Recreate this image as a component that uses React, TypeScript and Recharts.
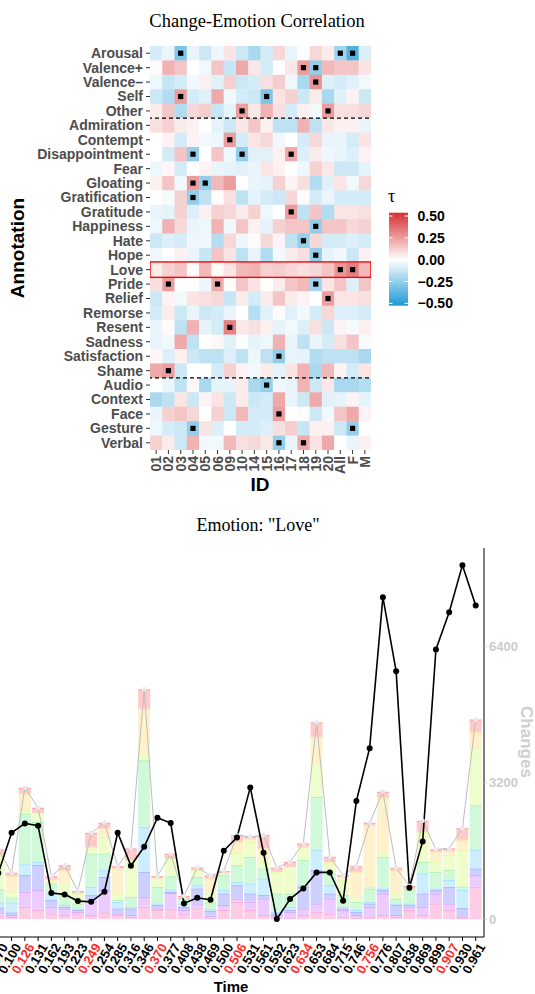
import React from "react";
import {
  ScatterChart,
  Scatter,
  XAxis,
  YAxis,
  ComposedChart,
  Bar,
  Line,
} from "recharts";

// ---------------- Heatmap data ----------------
const ids = ["01", "02", "03", "04", "05", "06", "09", "10", "14", "15", "16", "17", "18", "19", "20", "All", "F", "M"];
const annotations = [
  "Arousal", "Valence+", "Valence\u2013", "Self", "Other", "Admiration", "Contempt", "Disappointment", "Fear",
  "Gloating", "Gratification", "Gratitude", "Happiness", "Hate", "Hope", "Love", "Pride", "Relief", "Remorse",
  "Resent", "Sadness", "Satisfaction", "Shame", "Audio", "Context", "Face", "Gesture", "Verbal",
];
// tau per annotation (rows) x id (columns)
const tau: number[][] = [
  [-0.1, -0.05, -0.3, -0.05, -0.12, -0.04, 0.07, -0.12, -0.2, -0.1, 0.1, -0.05, -0.01, 0.1, 0.05, -0.22, -0.4, -0.08],
  [0.01, 0.2, 0.15, 0.0, -0.03, 0.15, -0.13, 0.22, 0.06, -0.1, 0.0, 0.06, 0.25, -0.25, 0.18, 0.15, 0.15, 0.07],
  [-0.04, -0.13, -0.1, -0.03, 0.04, -0.07, 0.12, -0.12, -0.1, 0.08, 0.13, -0.04, -0.2, 0.28, -0.08, -0.1, -0.07, -0.03],
  [-0.12, -0.18, 0.25, -0.1, -0.07, 0.22, -0.03, -0.1, -0.12, -0.3, 0.07, 0.12, -0.12, 0.05, -0.2, -0.07, 0.03, -0.12],
  [0.05, 0.15, -0.18, 0.1, 0.13, -0.13, -0.06, 0.25, 0.06, 0.2, 0.08, -0.1, 0.04, -0.03, 0.25, 0.08, 0.08, 0.1],
  [0.08, 0.12, 0.05, 0.04, 0.0, -0.06, -0.12, 0.06, 0.15, 0.04, -0.15, -0.15, 0.2, -0.15, 0.06, 0.04, 0.04, -0.05],
  [0.0, 0.03, -0.1, 0.03, -0.03, -0.04, 0.25, -0.1, 0.07, 0.1, -0.03, 0.0, -0.1, 0.1, -0.05, -0.05, -0.1, 0.07],
  [0.0, -0.1, 0.15, -0.25, 0.0, 0.15, -0.04, -0.25, -0.07, -0.07, 0.04, 0.22, -0.08, 0.05, -0.04, -0.05, -0.08, 0.03],
  [-0.04, 0.02, -0.1, 0.0, 0.03, -0.05, -0.06, -0.07, -0.05, 0.07, 0.04, 0.0, -0.04, 0.12, 0.06, -0.12, -0.12, -0.06],
  [0.04, 0.15, -0.03, 0.25, -0.25, 0.18, 0.25, 0.0, -0.05, -0.06, 0.12, 0.03, 0.08, -0.18, -0.07, 0.07, -0.03, 0.1],
  [0.0, -0.02, 0.12, -0.25, -0.15, 0.01, 0.08, -0.15, -0.06, -0.1, -0.12, 0.1, 0.01, -0.1, -0.05, -0.1, -0.1, -0.1],
  [-0.05, -0.06, 0.12, -0.08, 0.04, 0.12, 0.1, 0.05, 0.12, -0.04, 0.0, 0.25, -0.15, 0.15, -0.18, 0.07, 0.07, 0.08],
  [-0.04, 0.2, 0.1, -0.05, -0.04, 0.2, -0.03, 0.15, 0.04, -0.06, 0.12, 0.15, 0.15, -0.25, 0.15, 0.15, 0.1, 0.12],
  [-0.12, -0.08, -0.1, -0.04, -0.03, -0.17, 0.1, -0.04, 0.01, 0.1, 0.03, -0.15, -0.25, 0.1, -0.1, -0.1, -0.08, -0.1],
  [-0.04, 0.0, 0.04, -0.05, -0.13, 0.15, 0.07, -0.15, -0.05, -0.18, -0.03, 0.05, 0.08, -0.25, -0.06, -0.03, -0.12, 0.04],
  [0.05, 0.12, 0.15, 0.01, 0.18, 0.01, 0.07, 0.18, 0.2, 0.12, 0.13, 0.1, 0.08, 0.1, 0.15, 0.27, 0.33, 0.18],
  [0.08, 0.25, 0.0, 0.0, -0.04, 0.22, 0.01, 0.15, 0.07, 0.0, 0.05, 0.15, 0.18, -0.22, 0.07, 0.15, -0.08, 0.15],
  [-0.12, 0.03, -0.03, 0.07, 0.08, 0.1, -0.13, 0.05, -0.1, 0.05, 0.15, 0.05, 0.03, 0.0, 0.25, 0.07, 0.07, 0.08],
  [-0.1, 0.05, -0.12, -0.05, -0.12, -0.1, -0.05, 0.0, -0.17, -0.07, 0.01, -0.07, -0.03, -0.1, 0.1, -0.08, -0.08, -0.1],
  [-0.05, 0.01, -0.15, 0.2, -0.06, -0.1, 0.33, 0.06, 0.08, 0.04, -0.06, -0.03, -0.08, 0.08, -0.12, 0.03, -0.02, 0.04],
  [-0.05, -0.03, 0.22, -0.15, 0.0, 0.02, -0.07, -0.01, -0.06, -0.04, 0.2, -0.05, -0.15, -0.05, -0.1, 0.08, 0.15, -0.02],
  [0.02, -0.08, 0.04, -0.12, -0.15, -0.15, -0.08, -0.15, -0.04, -0.15, -0.25, -0.05, -0.06, -0.18, -0.15, -0.15, -0.15, -0.2],
  [0.22, 0.25, -0.12, 0.0, 0.0, -0.1, 0.12, 0.03, -0.03, 0.05, -0.06, 0.07, 0.2, -0.2, 0.18, 0.03, -0.1, 0.07],
  [0.0, -0.05, -0.15, 0.02, -0.2, -0.06, -0.06, 0.05, -0.2, -0.25, -0.04, -0.05, 0.2, -0.12, 0.06, -0.2, -0.2, -0.17],
  [-0.2, -0.15, 0.07, -0.12, 0.03, 0.07, -0.12, 0.05, -0.12, -0.1, 0.22, -0.05, -0.12, 0.22, -0.07, -0.06, 0.03, -0.06],
  [-0.05, 0.12, 0.15, 0.1, 0.0, 0.12, -0.12, 0.18, -0.1, -0.1, 0.25, 0.0, 0.01, -0.12, -0.03, 0.15, 0.22, 0.03],
  [-0.04, -0.1, -0.12, -0.25, 0.07, -0.08, 0.0, -0.1, -0.1, -0.08, 0.08, 0.13, -0.13, 0.04, 0.04, -0.12, -0.25, 0.0],
  [0.12, 0.05, -0.12, 0.2, -0.03, -0.03, 0.18, 0.08, 0.1, 0.06, -0.25, -0.05, 0.22, 0.07, 0.22, 0.0, -0.05, 0.04],
];
// significant cells [annotation, id]
const significant: [string, string][] = [
  ["Arousal", "03"], ["Arousal", "All"], ["Arousal", "F"],
  ["Valence+", "18"], ["Valence+", "19"], ["Valence\u2013", "19"],
  ["Self", "03"], ["Self", "15"], ["Other", "10"], ["Other", "20"],
  ["Contempt", "09"], ["Disappointment", "04"], ["Disappointment", "10"], ["Disappointment", "17"],
  ["Gloating", "04"], ["Gloating", "05"], ["Gratification", "04"], ["Gratitude", "17"],
  ["Happiness", "19"], ["Hate", "18"], ["Hope", "19"], ["Love", "All"], ["Love", "F"],
  ["Pride", "02"], ["Pride", "06"], ["Pride", "19"], ["Relief", "20"], ["Resent", "09"],
  ["Satisfaction", "16"], ["Shame", "02"], ["Audio", "15"], ["Face", "16"],
  ["Gesture", "04"], ["Gesture", "F"], ["Verbal", "16"], ["Verbal", "18"],
];
const groupSeparators = [4.5, 22.5]; // between Other/Admiration and Shame/Audio
const highlightedAnnotation = "Love";
const legendBreaks = [0.5, 0.25, 0, -0.25, -0.5];
const legendLabels = ["0.50", "0.25", "0.00", "\u22120.25", "\u22120.50"];

// ---------------- Bottom chart data ----------------
const times = [
  "0.070", "0.100", "0.126", "0.131", "0.162", "0.193", "0.223", "0.249", "0.254", "0.285", "0.316", "0.346",
  "0.370", "0.377", "0.408", "0.438", "0.469", "0.500", "0.506", "0.531", "0.561", "0.592", "0.623", "0.634",
  "0.653", "0.684", "0.715", "0.746", "0.756", "0.776", "0.807", "0.838", "0.869", "0.899", "0.907", "0.930", "0.961",
];
const highlightedTimes = ["0.126", "0.249", "0.370", "0.506", "0.634", "0.756", "0.907"];
const pinkVals = [78, 47, 289, 211, 133, 94, 133, 94, 156, 94, 55, 289, 211, 230, 133, 250, 39, 211, 406, 211, 94, 39, 39, 94, 172, 133, 55, 39, 55, 94, 55, 211, 94, 367, 211, 39, 758];
const purpleVals = [78, 47, 351, 469, 156, 156, 39, 312, 523, 39, 39, 234, 39, 383, 78, 117, 39, 117, 78, 195, 391, 55, 133, 156, 195, 351, 156, 55, 234, 508, 39, 78, 195, 234, 156, 23, 273];
const blueVals = [117, 62, 391, 586, 156, 39, 39, 156, 312, 117, 156, 586, 78, 23, 78, 351, 117, 273, 312, 195, 78, 39, 39, 508, 781, 117, 39, 78, 78, 78, 234, 39, 312, 78, 391, 195, 156];
const cyanVals = [117, 234, 273, 78, 156, 39, 39, 195, 156, 156, 39, 1054, 39, 61, 78, 78, 39, 78, 78, 234, 391, 39, 78, 39, 469, 195, 39, 39, 39, 39, 39, 39, 469, 39, 156, 430, 430];
const greenVals = [312, 117, 1172, 937, 234, 234, 117, 781, 391, 39, 234, 1562, 391, 306, 117, 195, 156, 351, 391, 625, 234, 430, 312, 586, 1250, 273, 273, 195, 312, 742, 117, 312, 273, 391, 234, 78, 1054];
const limeVals = [781, 156, 78, 211, 0, 273, 234, 117, 391, 156, 859, 156, 195, 421, 0, 156, 234, 55, 312, 351, 156, 508, 625, 312, 781, 234, 351, 117, 39, 78, 117, 0, 703, 234, 351, 859, 1367];
const yellowVals = [39, 344, 391, 0, 94, 312, 0, 39, 195, 586, 0, 1054, 0, 0, 0, 0, 328, 0, 234, 78, 312, 0, 0, 0, 625, 39, 78, 586, 1445, 1312, 547, 39, 0, 234, 102, 234, 351];
const redVals = [109, 78, 133, 117, 78, 117, 55, 328, 133, 55, 273, 453, 55, 107, 55, 62, 70, 39, 156, 39, 312, 94, 117, 78, 336, 117, 39, 133, 55, 133, 55, 62, 258, 55, 55, 273, 289];
const lineVals = [1078, 2023, 2243, 2187, 609, 579, 422, 406, 640, 2023, 1250, 1695, 2375, 2250, 368, 500, 453, 1601, 1915, 3087, 1555, 0, 469, 719, 1094, 1094, 430, 2766, 4008, 7548, 5813, 734, 1820, 6322, 7196, 8298, 7353];
const changeTicks = [0, 3200, 6400];

const segments = [
  { key: "pink", vals: pinkVals, color: "#ffcce6", edge: "#ff8fc8" },
  { key: "purple", vals: purpleVals, color: "#eccbff", edge: "#c98cff" },
  { key: "blue", vals: blueVals, color: "#cdd0ff", edge: "#9a9cff" },
  { key: "cyan", vals: cyanVals, color: "#cdeeff", edge: "#8fd6ff" },
  { key: "green", vals: greenVals, color: "#cff9d8", edge: "#8fef9f" },
  { key: "lime", vals: limeVals, color: "#effdcb", edge: "#d9f58f" },
  { key: "yellow", vals: yellowVals, color: "#fff1cc", edge: "#ffdf8f" },
  { key: "red", vals: redVals, color: "#ffcaca", edge: "#ff9090" },
];

const barData = times.map((t, i) => {
  const row: Record<string, number | string> = { t };
  let total = 0;
  segments.forEach((s) => {
    row[s.key] = s.vals[i];
    total += s.vals[i];
  });
  row.total = total;
  row.line = lineVals[i];
  return row;
});

const cellData = annotations.flatMap((a, r) => ids.map((id, c) => ({ x: c, y: r, v: tau[r][c] })));
const sigData = significant.map(([a, id]) => ({ x: ids.indexOf(id), y: annotations.indexOf(a) }));
const midCol = (ids.length - 1) / 2;
const dashData = groupSeparators.map((y) => ({ x: midCol, y }));
const boxData = [{ x: midCol, y: annotations.indexOf(highlightedAnnotation) }];

// ---------------- helpers ----------------
const RED = [214, 50, 52];
const BLUE = [28, 152, 213];
const LIM = 0.53;
function tauColor(v: number) {
  const t = Math.min(1, Math.abs(v) / LIM);
  const c = v >= 0 ? RED : BLUE;
  const ch = c.map((k) => Math.round(255 - (255 - k) * t));
  return `rgb(${ch[0]},${ch[1]},${ch[2]})`;
}

const SANS = "'Liberation Sans', Arial, sans-serif";
const SERIF = "'Liberation Serif', 'DejaVu Serif', serif";

// heatmap geometry
const HM_W = 535;
const HM_H = 500;
const HM_LEFT = 150;
const HM_RIGHT = 371;
const HM_TOP = 46;
const HM_BOTTOM = 450;
const CELL_W = (HM_RIGHT - HM_LEFT) / ids.length;
const CELL_H = (HM_BOTTOM - HM_TOP) / annotations.length;
const FULL_W = CELL_W * ids.length;

const IdTick = (props: any) => {
  const { x, y, payload } = props;
  return (
    <text
      x={x}
      y={y}
      transform={`rotate(-90 ${x} ${y})`}
      textAnchor="end"
      dy="0.36em"
      fontFamily={SANS}
      fontWeight="bold"
      fontSize={14}
      fill="#4d4d4d"
    >
      {ids[payload.value]}
    </text>
  );
};

const TimeTick = (props: any) => {
  const { x, y, payload } = props;
  const red = highlightedTimes.includes(payload.value);
  return (
    <g transform={`translate(${x + 2},${y - 1})`}>
      <text
        transform="rotate(-60)"
        textAnchor="end"
        dy="0.72em"
        fontFamily={SANS}
        fontWeight="bold"
        fontSize={13}
        fill={red ? "#ff2b2b" : "#000"}
      >
        {payload.value}
      </text>
    </g>
  );
};

export default function App() {
  const legendTop = 212.7;
  const legendBottom = 305.7;
  const legendMax = 0.538;
  const legendMin = -0.527;
  const legY = (v: number) => legendTop + ((legendMax - v) / (legendMax - legendMin)) * (legendBottom - legendTop);
  const gradStops = [0.538, 0.45, 0.35, 0.25, 0.15, 0.05, 0, -0.05, -0.15, -0.25, -0.35, -0.45, -0.527];

  return (
    <div
      style={{
        position: "fixed",
        left: 0,
        top: 0,
        width: 535,
        height: 994,
        overflow: "hidden",
        background: "#fff",
      }}
    >
      {/* Heatmap */}
      <div style={{ position: "absolute", left: 0, top: 0 }}>
        <ScatterChart width={HM_W} height={HM_H} margin={{ top: HM_TOP, right: HM_W - HM_RIGHT, bottom: 0, left: 0 }}>
          <XAxis
            type="number"
            dataKey="x"
            domain={[-0.5, ids.length - 0.5]}
            ticks={ids.map((_, i) => i)}
            interval={0}
            allowDataOverflow
            axisLine={false}
            tickSize={4}
            tickMargin={2}
            tickLine={{ stroke: "#333" }}
            tick={<IdTick />}
            height={HM_H - HM_BOTTOM}
          />
          <YAxis
            type="number"
            dataKey="y"
            domain={[-0.5, annotations.length - 0.5]}
            ticks={annotations.map((_, i) => i)}
            interval={0}
            reversed
            allowDataOverflow
            axisLine={false}
            width={HM_LEFT}
            tickSize={4}
            tickMargin={3}
            tickLine={{ stroke: "#333" }}
            tickFormatter={(i: number) => annotations[i]}
            tick={{ fontFamily: SANS, fontWeight: "bold", fontSize: 14, fill: "#4d4d4d" }}
          />
          <Scatter
            data={cellData}
            isAnimationActive={false}
            shape={(p: any) => (
              <rect
                x={p.cx - CELL_W / 2}
                y={p.cy - CELL_H / 2}
                width={CELL_W + 0.4}
                height={CELL_H + 0.4}
                fill={tauColor(p.payload.v)}
              />
            )}
          />
          <Scatter
            data={sigData}
            isAnimationActive={false}
            shape={(p: any) => <rect x={p.cx - 2.6} y={p.cy - 2.6} width={5.2} height={5.2} fill="#000" />}
          />
          <Scatter
            data={dashData}
            isAnimationActive={false}
            shape={(p: any) => (
              <line
                x1={p.cx - FULL_W / 2 - 2}
                x2={p.cx + FULL_W / 2 + 1.5}
                y1={p.cy}
                y2={p.cy}
                stroke="#000"
                strokeWidth={1.2}
                strokeDasharray="4 3"
              />
            )}
          />
          <Scatter
            data={boxData}
            isAnimationActive={false}
            shape={(p: any) => (
              <rect
                x={p.cx - FULL_W / 2}
                y={p.cy - CELL_H / 2 - 0.5}
                width={FULL_W}
                height={CELL_H + 1}
                fill="none"
                stroke="#ff0000"
                strokeWidth={1.4}
              />
            )}
          />
        </ScatterChart>
      </div>

      {/* Bottom chart */}
      <div style={{ position: "absolute", left: -40, top: 540 }}>
        <ComposedChart width={575} height={454} data={barData} margin={{ top: 8, right: 0, bottom: 0, left: 0 }} barCategoryGap={0.6}>
          <XAxis
            dataKey="t"
            type="category"
            interval={0}
            padding={{ left: 31.7, right: 1.67 }}
            height={57}
            tickSize={4}
            tickMargin={2}
            axisLine={{ stroke: "#000", strokeWidth: 1 }}
            tickLine={{ stroke: "#000" }}
            tick={<TimeTick />}
          />
          <YAxis
            orientation="right"
            width={51}
            domain={[-420, 8700]}
            ticks={changeTicks}
            allowDataOverflow
            tickSize={3}
            tickMargin={2}
            axisLine={{ stroke: "#000", strokeWidth: 1 }}
            tickLine={{ stroke: "#cccccc" }}
            tick={{ fontFamily: SANS, fontWeight: "bold", fontSize: 13, fill: "#cccccc" }}
          />
          {segments.map((s) => (
            <Bar
              key={s.key}
              dataKey={s.key}
              stackId="s"
              fill={s.color}
              isAnimationActive={false}
              shape={(p: any) =>
                p.height > 0 ? (
                  <g>
                    <rect x={p.x} y={p.y} width={p.width} height={p.height} fill={s.color} />
                    <line x1={p.x} x2={p.x + p.width} y1={p.y + 0.5} y2={p.y + 0.5} stroke={s.edge} strokeOpacity={0.6} strokeWidth={1} />
                  </g>
                ) : (
                  <g />
                )
              }
            />
          ))}
          <Line
            dataKey="total"
            stroke="#bdbdbd"
            strokeWidth={1}
            dot={{ r: 2.3, fill: "#ece6ee", stroke: "none" }}
            isAnimationActive={false}
          />
          <Line
            dataKey="line"
            stroke="#000"
            strokeWidth={1.6}
            dot={{ r: 3, fill: "#000", stroke: "none" }}
            isAnimationActive={false}
          />
        </ComposedChart>
      </div>

      {/* Text overlay: titles, axis titles, legend */}
      <svg
        width={535}
        height={994}
        style={{ position: "absolute", left: 0, top: 0, pointerEvents: "none" }}
      >
        <text x={257} y={27} textAnchor="middle" fontFamily={SERIF} fontSize={18.5} fill="#000">
          Change-Emotion Correlation
        </text>
        <text
          x={24}
          y={248}
          transform="rotate(-90 24 248)"
          textAnchor="middle"
          fontFamily={SANS}
          fontWeight="bold"
          fontSize={19}
          fill="#000"
        >
          Annotation
        </text>
        <text x={260} y={491} textAnchor="middle" fontFamily={SANS} fontWeight="bold" fontSize={19} fill="#000">
          ID
        </text>

        {/* legend */}
        <defs>
          <linearGradient id="tauGrad" x1="0" y1="0" x2="0" y2="1">
            {gradStops.map((v, i) => (
              <stop key={i} offset={(legendMax - v) / (legendMax - legendMin)} stopColor={tauColor(v)} />
            ))}
          </linearGradient>
        </defs>
        <text x={388} y={202} fontFamily={SERIF} fontSize={18} fill="#000">
          {"\u03c4"}
        </text>
        <rect x={389} y={legendTop} width={19} height={legendBottom - legendTop} fill="url(#tauGrad)" />
        {legendBreaks.map((b, i) => (
          <g key={i}>
            <line x1={389} x2={392.5} y1={legY(b)} y2={legY(b)} stroke="#fff" strokeWidth={1} />
            <line x1={404.5} x2={408} y1={legY(b)} y2={legY(b)} stroke="#fff" strokeWidth={1} />
            <text
              x={417.5}
              y={legY(b)}
              dy="0.36em"
              fontFamily={SANS}
              fontWeight="bold"
              fontSize={14}
              fill="#000"
            >
              {legendLabels[i]}
            </text>
          </g>
        ))}

        <text x={258} y={531} textAnchor="middle" fontFamily={SERIF} fontSize={18} fill="#000">
          Emotion: "Love"
        </text>
        <text
          x={521}
          y={742}
          transform="rotate(90 521 742)"
          textAnchor="middle"
          fontFamily={SANS}
          fontWeight="bold"
          fontSize={17}
          fill="#cfcfcf"
        >
          Changes
        </text>
        <text x={231} y={992} textAnchor="middle" fontFamily={SANS} fontWeight="bold" fontSize={15} fill="#000">
          Time
        </text>
      </svg>
    </div>
  );
}
